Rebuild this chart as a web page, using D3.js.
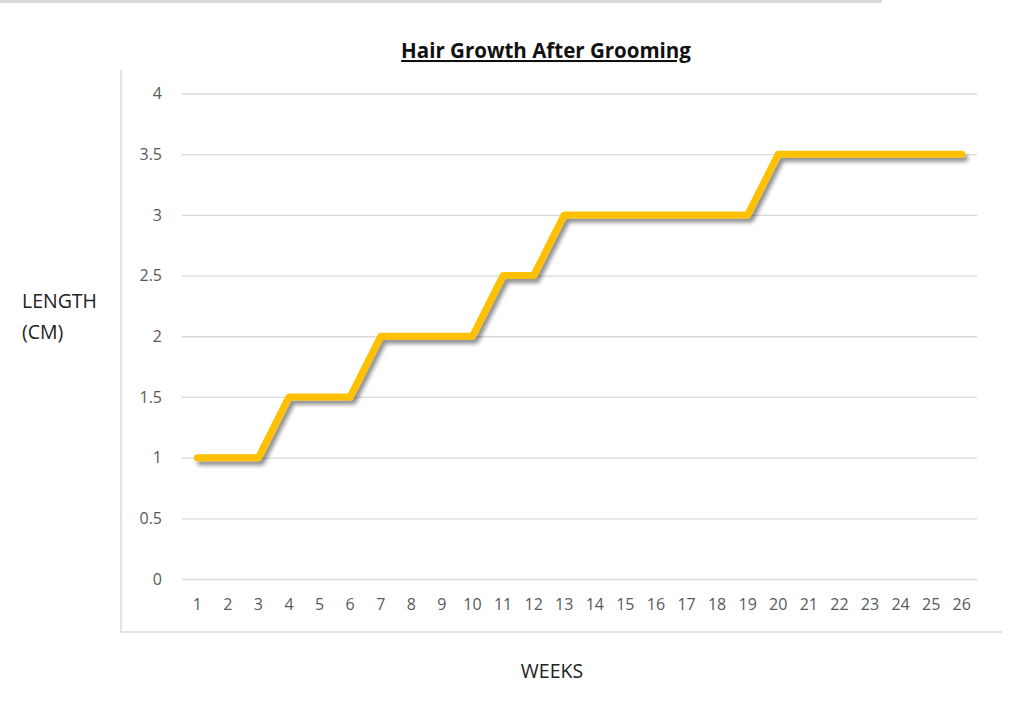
<!DOCTYPE html>
<html>
<head>
<meta charset="utf-8">
<script src="https://cdn.jsdelivr.net/npm/d3@7"></script>
<style>
  body { margin: 0; background: #fff; }
  text { font-family: "Open Sans", "Noto Sans", sans-serif; }
</style>
</head>
<body>
<div id="chart"></div>
<script>
let weeks = d3.range(1, 27).map(String);
let lengths = [1, 1, 1, 1.5, 1.5, 1.5, 2, 2, 2, 2, 2.5, 2.5, 3, 3, 3, 3, 3, 3, 3, 3.5, 3.5, 3.5, 3.5, 3.5, 3.5, 3.5];
let yTicks = [0, 0.5, 1, 1.5, 2, 2.5, 3, 3.5, 4];

let margin = { top: 93.5, left: 182, right: 47, bottom: 145 };
let width = 1024 - margin.left - margin.right;
let height = 724 - margin.top - margin.bottom;

let svg = d3.select('#chart')
    .append('svg')
        .attr('width', 1024)
        .attr('height', 724);

// filter for the soft line shadow
let defs = svg.append('defs');
let f = defs.append('filter').attr('id', 'shadow')
    .attr('x', '-5%').attr('y', '-20%').attr('width', '110%').attr('height', '140%');
f.append('feGaussianBlur').attr('in', 'SourceAlpha').attr('stdDeviation', 2).attr('result', 'blur');
f.append('feOffset').attr('dx', 3).attr('dy', 4).attr('result', 'off');
f.append('feComponentTransfer').append('feFuncA').attr('type', 'linear').attr('slope', 0.45);
let merge = f.append('feMerge');
merge.append('feMergeNode');
merge.append('feMergeNode').attr('in', 'SourceGraphic');

// frame lines
svg.append('line').attr('x1', 0).attr('x2', 882).attr('y1', 1.5).attr('y2', 1.5)
    .attr('stroke', '#d9d9d9').attr('stroke-width', 3);
svg.append('line').attr('x1', 121).attr('x2', 121).attr('y1', 70).attr('y2', 632)
    .attr('stroke', '#d9d9d9').attr('stroke-width', 1.5);
svg.append('line').attr('x1', 121).attr('x2', 1002).attr('y1', 632).attr('y2', 632)
    .attr('stroke', '#d9d9d9').attr('stroke-width', 1.5);

let g = svg.append('g')
    .attr('transform', "translate(" + margin.left + "," + margin.top + ")");

let x = d3.scaleBand().domain(weeks).range([0, width]);
let y = d3.scaleLinear().domain([0, 4]).range([height, 0]);

// gridlines + y labels
let yAxis = g.append('g')
    .call(d3.axisLeft(y).tickValues(yTicks).tickSize(-width).tickPadding(20)
        .tickFormat(d3.format('')));
yAxis.select('.domain').remove();
yAxis.selectAll('.tick line').attr('stroke', '#d9d9d9').attr('stroke-width', 1.3);
yAxis.selectAll('.tick text').attr('fill', '#595959').attr('font-size', '16px')
    .attr('font-family', '"Open Sans", sans-serif');

// x labels
let xAxis = g.append('g')
    .attr('transform', "translate(0," + height + ")")
    .call(d3.axisBottom(x).tickSize(0).tickPadding(20));
xAxis.select('.domain').remove();
xAxis.selectAll('.tick text').attr('fill', '#595959').attr('font-size', '16px')
    .attr('font-family', '"Open Sans", sans-serif');

// the line
let line = d3.line()
    .x(function (d, i) { return x(weeks[i]) + x.bandwidth() / 2; })
    .y(function (d) { return y(d); });

g.append('path')
    .datum(lengths)
    .attr('d', line)
    .attr('fill', 'none')
    .attr('stroke', '#ffc000')
    .attr('stroke-width', 7)
    .attr('stroke-linejoin', 'round')
    .attr('stroke-linecap', 'round')
    .attr('filter', 'url(#shadow)');

// title
svg.append('text')
    .attr('x', 546).attr('y', 58)
    .attr('text-anchor', 'middle')
    .attr('font-size', '20.5px')
    .attr('font-weight', 'bold')
    .attr('text-decoration', 'underline')
    .attr('fill', '#111')
    .text('Hair Growth After Grooming');

// y label
let yl = svg.append('text')
    .attr('x', 22).attr('y', 308)
    .attr('font-size', '19.5px')
    .attr('fill', '#222');
yl.append('tspan').attr('x', 22).text('LENGTH');
yl.append('tspan').attr('x', 22).attr('dy', 31).text('(CM)');

// x label
svg.append('text')
    .attr('x', 552).attr('y', 678)
    .attr('text-anchor', 'middle')
    .attr('font-size', '19.5px')
    .attr('fill', '#222')
    .text('WEEKS');
</script>
</body>
</html>
